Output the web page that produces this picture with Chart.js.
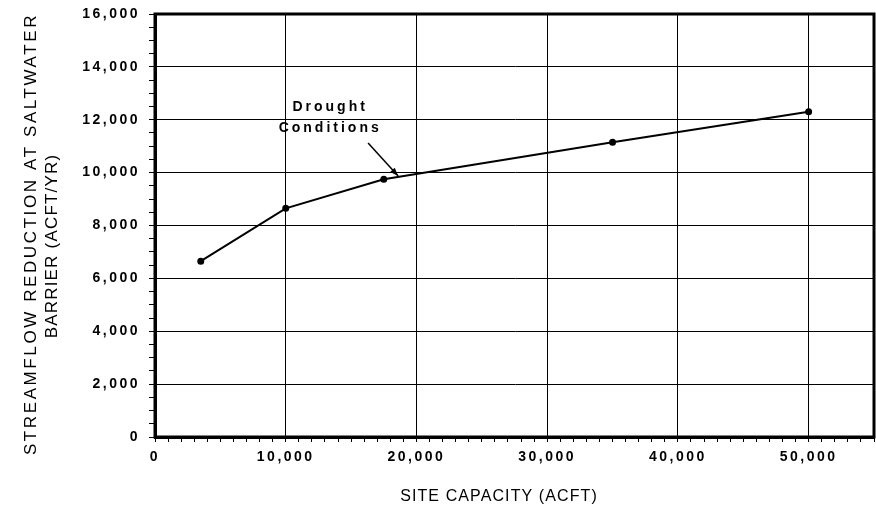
<!DOCTYPE html>
<html>
<head>
<meta charset="utf-8">
<script src="https://cdn.jsdelivr.net/npm/chart.js@4/dist/chart.umd.min.js"></script>
<style>
  html, body { margin: 0; padding: 0; background: #fff; }
  #wrap { width: 876px; height: 512px; }
</style>
</head>
<body>
<div id="wrap"><canvas id="myChart" width="876" height="512"></canvas></div>
<script>
// site capacity (acft) vs streamflow reduction (acft/yr)
const capacity = [3500, 10000, 17500, 35000, 50000];
const reduction = [6650, 8650, 9750, 11150, 12300];

const xMajorTicks = [0, 10000, 20000, 30000, 40000, 50000];
const yMajorTicks = [0, 2000, 4000, 6000, 8000, 10000, 12000, 14000, 16000];

const xTitle = 'SITE CAPACITY (ACFT)';
const yTitle = ['STREAMFLOW REDUCTION AT SALTWATER', 'BARRIER (ACFT/YR)'];
const noteLines = ['Drought', 'Conditions'];

const FONT = '"Liberation Sans", Arial, sans-serif';
const TICK_SPACING = '2.5px';

function fmt(v) {
    return v.toLocaleString('en-US');
}

const framePlugin = {
    id: 'frame',
    beforeUpdate(chart) {
        chart.ctx.letterSpacing = TICK_SPACING;
    },
    beforeDraw(chart) {
        const ctx = chart.ctx;
        ctx.save();
        ctx.fillStyle = '#fff';
        ctx.fillRect(0, 0, chart.width, chart.height);
        ctx.restore();
        ctx.letterSpacing = TICK_SPACING;
    },
    afterDatasetsDraw(chart) {
        const ctx = chart.ctx;
        const a = chart.chartArea;
        const xs = chart.scales.x;
        const ys = chart.scales.y;

        ctx.save();
        ctx.strokeStyle = '#000';
        ctx.lineWidth = 3;
        ctx.strokeRect(a.left, a.top, a.right - a.left, a.bottom - a.top);

        // annotation
        ctx.fillStyle = '#000';
        ctx.font = 'bold 14px ' + FONT;
        ctx.letterSpacing = '3px';
        ctx.textAlign = 'center';
        ctx.textBaseline = 'middle';
        ctx.fillText(noteLines[0], xs.getPixelForValue(13400), ys.getPixelForValue(12480));
        ctx.fillText(noteLines[1], xs.getPixelForValue(13400), ys.getPixelForValue(11690));

        const x0 = xs.getPixelForValue(16300), y0 = ys.getPixelForValue(11120);
        const x1 = xs.getPixelForValue(18600), y1 = ys.getPixelForValue(9870);
        ctx.lineWidth = 1.5;
        ctx.beginPath();
        ctx.moveTo(x0, y0);
        ctx.lineTo(x1, y1);
        ctx.stroke();
        const ang = Math.atan2(y1 - y0, x1 - x0);
        const len = 9, spread = 0.35;
        ctx.beginPath();
        ctx.moveTo(x1, y1);
        ctx.lineTo(x1 - len * Math.cos(ang - spread), y1 - len * Math.sin(ang - spread));
        ctx.lineTo(x1 - len * Math.cos(ang + spread), y1 - len * Math.sin(ang + spread));
        ctx.closePath();
        ctx.fill();

        // axis titles
        ctx.font = '16px ' + FONT;
        ctx.letterSpacing = '1.1px';
        ctx.fillText(xTitle, 499, 497);

        ctx.font = '17px ' + FONT;
        ctx.letterSpacing = '2.6px';
        ctx.translate(31, 234);
        ctx.rotate(-Math.PI / 2);
        ctx.fillText(yTitle[0], 0, 0);
        ctx.rotate(Math.PI / 2);
        ctx.letterSpacing = '1.2px';
        ctx.translate(21, 12);
        ctx.rotate(-Math.PI / 2);
        ctx.fillText(yTitle[1], 0, 0);
        ctx.restore();
    }
};

const data = {
    datasets: [{
        label: 'Drought Conditions',
        data: capacity.map((c, i) => ({ x: c, y: reduction[i] })),
        borderColor: '#000',
        backgroundColor: '#000',
        borderWidth: 2,
        pointRadius: 2.5,
        pointHoverRadius: 2.5,
        tension: 0
    }]
};

const config = {
    type: 'line',
    data: data,
    options: {
        responsive: false,
        animation: false,
        events: [],
        layout: { autoPadding: false, padding: { top: 14, right: 2, left: 0, bottom: 0 } },
        plugins: {
            legend: { display: false },
            tooltip: { enabled: false }
        },
        scales: {
            x: {
                type: 'linear',
                min: 0,
                max: 55000,
                afterFit(scale) {
                    scale.height = 75;
                    scale.paddingLeft = 0;
                    scale.paddingRight = 0;
                },
                ticks: {
                    stepSize: 1000,
                    autoSkip: false,
                    maxRotation: 0,
                    padding: 7,
                    color: '#000',
                    font: { family: FONT, size: 14, weight: 'bold' },
                    callback: v => xMajorTicks.includes(v) ? fmt(v) : ''
                },
                grid: {
                    color: c => (c.tick && xMajorTicks.includes(c.tick.value)) ? '#000' : 'rgba(0,0,0,0)',
                    tickColor: '#000',
                    tickLength: 5,
                    lineWidth: 1
                },
                border: { display: true, color: '#000', width: 3 }
            },
            y: {
                min: 0,
                max: 16000,
                afterFit(scale) {
                    scale.width = 155;
                    scale.paddingTop = 0;
                    scale.paddingBottom = 0;
                },
                ticks: {
                    stepSize: 500,
                    autoSkip: false,
                    padding: 9,
                    color: '#000',
                    font: { family: FONT, size: 14, weight: 'bold' },
                    callback: v => yMajorTicks.includes(v) ? fmt(v) : ''
                },
                grid: {
                    color: c => (c.tick && yMajorTicks.includes(c.tick.value)) ? '#000' : 'rgba(0,0,0,0)',
                    tickColor: '#000',
                    tickLength: 6,
                    lineWidth: 1
                },
                border: { display: true, color: '#000', width: 3 }
            }
        }
    },
    plugins: [framePlugin]
};

const myChart = new Chart(document.getElementById('myChart').getContext('2d'), config);
</script>
</body>
</html>
